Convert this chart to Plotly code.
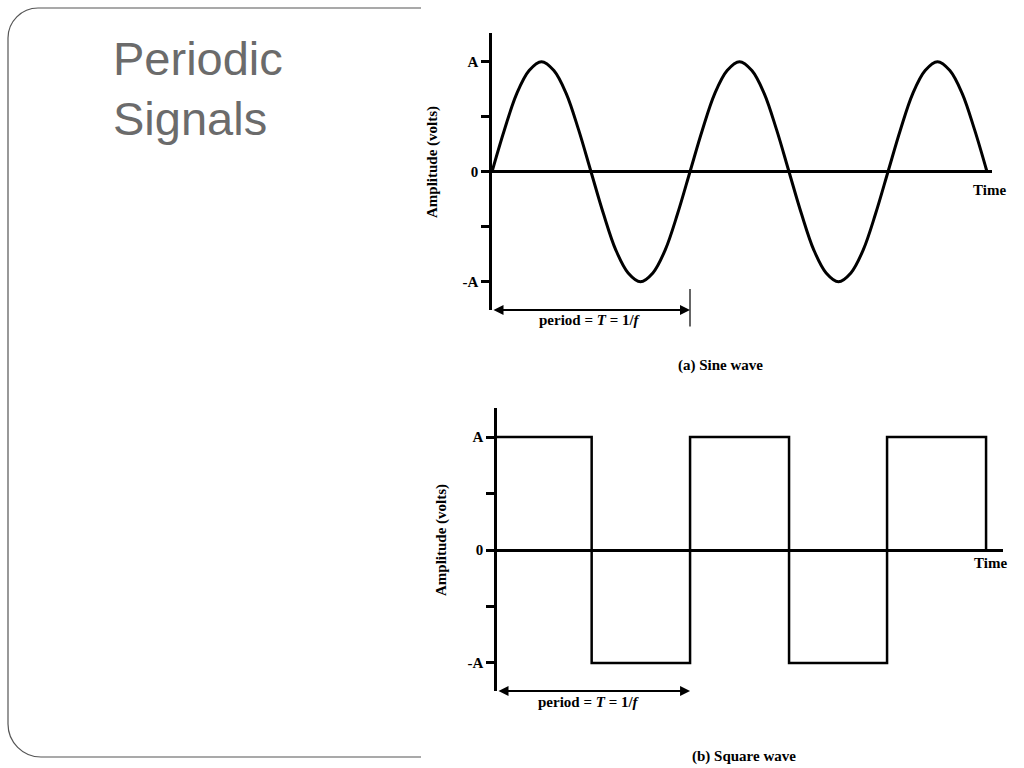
import plotly.graph_objects as go

W, H = 1024, 768

# ---- data (time in periods, amplitude in units of A) ----
sine_t = [0, 0.0625, 0.125, 0.1875, 0.25, 0.3125, 0.375, 0.4375, 0.5,
          0.5625, 0.625, 0.6875, 0.75, 0.8125, 0.875, 0.9375, 1.0,
          1.0625, 1.125, 1.1875, 1.25, 1.3125, 1.375, 1.4375, 1.5,
          1.5625, 1.625, 1.6875, 1.75, 1.8125, 1.875, 1.9375, 2.0,
          2.0625, 2.125, 2.1875, 2.25, 2.3125, 2.375, 2.4375, 2.5]
sine_v = [0, 0.38, 0.71, 0.92, 1, 0.92, 0.71, 0.38, 0,
          -0.38, -0.71, -0.92, -1, -0.92, -0.71, -0.38, 0,
          0.38, 0.71, 0.92, 1, 0.92, 0.71, 0.38, 0,
          -0.38, -0.71, -0.92, -1, -0.92, -0.71, -0.38, 0,
          0.38, 0.71, 0.92, 1, 0.92, 0.71, 0.38, 0]

square_t = [0, 0.48, 0.48, 0.979, 0.979, 1.481, 1.481, 1.978, 1.978, 2.48, 2.48]
square_v = [1, 1, -1, -1, 1, 1, -1, -1, 1, 1, 0]

tick_vals = [-1, -0.5, 0, 0.5, 1]
tick_text = ["<b>-A</b>", "", "<b>0</b>", "", "<b>A</b>"]
period_sine = [0, 1.0]
period_square = [0, 0.979]

SERIF = "Liberation Serif"
LW = 2.5


def px(x):
    return x / W


def py(y):
    return 1 - y / H


fig = go.Figure()
fig.add_trace(go.Scatter(x=sine_t, y=sine_v, mode="lines",
                         line=dict(color="black", width=3, shape="spline", smoothing=1),
                         xaxis="x", yaxis="y", showlegend=False, hoverinfo="skip"))
fig.add_trace(go.Scatter(x=square_t, y=square_v, mode="lines",
                         line=dict(color="black", width=LW),
                         xaxis="x2", yaxis="y2", showlegend=False, hoverinfo="skip"))

yax_common = dict(tickmode="array", tickvals=tick_vals, ticktext=tick_text,
                  ticks="outside", ticklen=8, tickwidth=LW, tickcolor="black",
                  showline=True, linecolor="black", linewidth=LW, showgrid=False,
                  zeroline=True, zerolinecolor="black", zerolinewidth=LW,
                  tickfont=dict(family=SERIF, size=15, color="black"), fixedrange=True)
xax_common = dict(showline=False, showgrid=False, zeroline=False, showticklabels=False,
                  ticks="", fixedrange=True)

fig.update_layout(
    width=W, height=H, margin=dict(l=0, r=0, t=0, b=0),
    paper_bgcolor="white", plot_bgcolor="rgba(0,0,0,0)",
    xaxis=dict(domain=[px(492), px(992)], range=[0, (992 - 492) / 198], anchor="y", **xax_common),
    yaxis=dict(domain=[py(310), py(33)], range=[-1.257, 1.261], anchor="x", **yax_common),
    xaxis2=dict(domain=[px(497), px(1003)], range=[0, (1003 - 497) / 197.2], anchor="y2", **xax_common),
    yaxis2=dict(domain=[py(691), py(408)], range=[-1.248, 1.257], anchor="x2", **yax_common),
)

ann = []
f15 = dict(family=SERIF, size=15, color="black")


def label(text, x, y, **kw):
    d = dict(text=text, x=px(x), y=py(y), xref="paper", yref="paper", showarrow=False,
             font=f15, xanchor="center", yanchor="middle")
    d.update(kw)
    ann.append(d)


# axis titles
label("<b>Amplitude (volts)</b>", 432, 162, textangle=-90)
label("<b>Amplitude (volts)</b>", 441, 540, textangle=-90)
# Time labels
label("<b>Time</b>", 989, 190)
label("<b>Time</b>", 990, 563)
# period labels
label("<b>period = <i>T</i> = 1/<i>f</i></b>", 590, 320)
label("<b>period = <i>T</i> = 1/<i>f</i></b>", 589, 702)
# captions
label("<b>(a) Sine wave</b>", 720, 365)
label("<b>(b) Square wave</b>", 744, 756)
# slide title
tfont = dict(family="Liberation Sans", size=47, color="#6b6b6b")
label("Periodic", 111, 58, font=tfont, xanchor="left")
label("Signals", 111, 118, font=tfont, xanchor="left")

# period arrows
ann.append(dict(text="", x=period_sine[1], y=-1.257, ax=period_sine[0], ay=-1.257,
                xref="x", yref="y", axref="x", ayref="y", showarrow=True,
                arrowhead=2, startarrowhead=2, arrowside="end+start", arrowsize=1, arrowwidth=2,
                arrowcolor="black", standoff=0, startstandoff=0))
ann.append(dict(text="", x=period_square[1], y=-1.248, ax=period_square[0], ay=-1.248,
                xref="x2", yref="y2", axref="x2", ayref="y2", showarrow=True,
                arrowhead=2, startarrowhead=2, arrowside="end+start", arrowsize=1, arrowwidth=2,
                arrowcolor="black", standoff=0, startstandoff=0))
# vertical marker at end of sine period
ann.append(dict(text="", x=period_sine[1], y=py(289), ax=0, ay=39,
                xref="x", yref="paper", axref="pixel", ayref="pixel", showarrow=True,
                arrowhead=0, arrowwidth=1.2, arrowcolor="black", standoff=0))
fig.update_layout(annotations=ann)

# slide frame (rounded left corners)
r1, r2 = 30, 33
k = 0.45
path = (f"M {px(421)},{py(8)} L {px(8 + r1)},{py(8)} "
        f"C {px(8 + r1 * k)},{py(8)} {px(8)},{py(8 + r1 * k)} {px(8)},{py(8 + r1)} "
        f"L {px(8)},{py(757 - r2)} "
        f"C {px(8)},{py(757 - r2 * k)} {px(8 + r2 * k)},{py(757)} {px(8 + r2)},{py(757)} "
        f"L {px(421)},{py(757)}")
fig.add_shape(type="path", path=path, xref="paper", yref="paper",
              line=dict(color="#555555", width=1.2))

fig.write_html("out.html", config={"displayModeBar": False},
               post_script="document.body.style.margin='0';document.body.style.overflow='hidden';")
